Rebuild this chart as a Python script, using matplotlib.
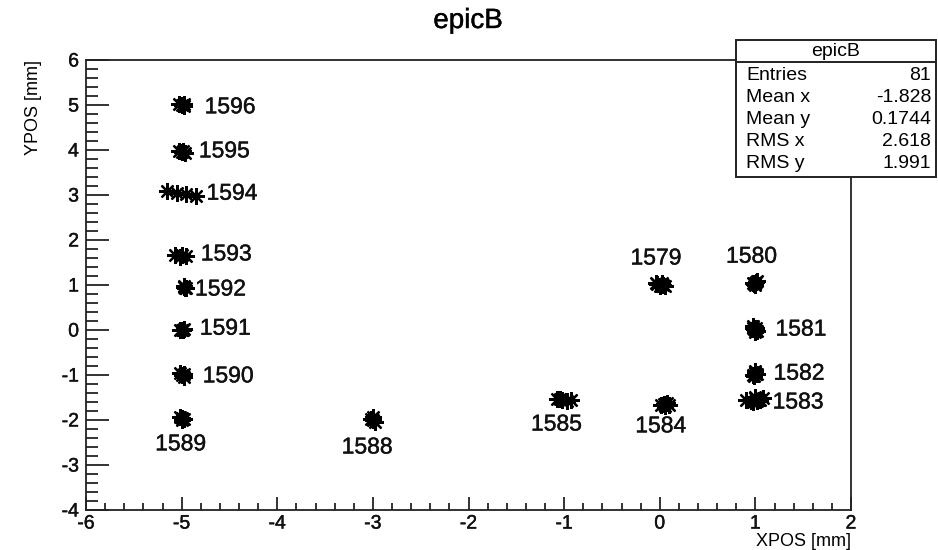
import matplotlib
matplotlib.use('Agg')
from matplotlib import pyplot as plt
from matplotlib import patheffects
from matplotlib.patches import Rectangle
from matplotlib.lines import Line2D
from matplotlib.ticker import MultipleLocator

plt.rcParams['font.family'] = ['Liberation Sans', 'DejaVu Sans']
plt.rcParams['axes.unicode_minus'] = False

# hit clusters, one per run number (x, y in mm)
runs = ['1596', '1595', '1594', '1593', '1592', '1591', '1590', '1589',
        '1588', '1585', '1584', '1579', '1580', '1581', '1582', '1583']
hits_x = [
    [-5.00, -4.97, -5.03, -4.98],
    [-5.00, -4.96, -5.03, -4.99],
    [-5.15, -5.05, -4.95, -4.85],
    [-5.07, -5.00, -4.95, -5.02],
    [-4.97, -4.95, -4.98, -4.96],
    [-5.00, -4.98, -5.02, -4.99],
    [-5.00, -4.97, -5.02, -4.98],
    [-5.00, -4.98, -5.02, -5.00],
    [-3.00, -3.00, -2.98, -3.02],
    [-1.07, -1.02, -0.97, -0.93, -1.04],
    [0.04, 0.08, 0.01, 0.10, 0.05],
    [-0.03, 0.00, 0.03, 0.05, -0.04, 0.02],
    [1.00, 1.00, 1.02, 0.98, 1.00, 1.01, 0.99],
    [0.97, 1.00, 1.02, 0.98, 1.00, 0.99, 1.01],
    [1.00, 0.98, 1.02, 1.00, 0.99, 1.01, 1.00],
    [0.90, 0.95, 1.00, 1.05, 1.08, 0.97, 1.02, 1.00],
]
hits_y = [
    [5.00, 4.97, 5.02, 5.03],
    [3.95, 3.93, 3.97, 3.98],
    [3.08, 3.05, 3.02, 2.98],
    [1.66, 1.66, 1.64, 1.62],
    [0.95, 0.93, 0.97, 0.94],
    [0.00, 0.02, -0.01, 0.00],
    [-1.00, -1.05, -0.95, -0.98],
    [-1.95, -1.98, -1.93, -2.00],
    [-2.00, -1.93, -2.05, -1.98],
    [-1.53, -1.55, -1.57, -1.56, -1.54],
    [-1.65, -1.63, -1.67, -1.66, -1.68],
    [1.02, 0.98, 1.00, 0.97, 1.05, 1.04],
    [1.05, 1.02, 1.08, 1.05, 1.00, 1.06, 1.03],
    [0.05, 0.00, -0.02, 0.08, -0.05, 0.02, 0.04],
    [-0.95, -1.00, -0.97, -0.92, -1.02, -0.98, -0.96],
    [-1.55, -1.58, -1.52, -1.55, -1.52, -1.60, -1.57, -1.50],
]

# where each run number is written (data coords) and how it is anchored
label_x = [-4.76, -4.82, -4.74, -4.80, -4.86, -4.81, -4.78, -5.01,
           -3.06, -1.08, 0.01, -0.04, 0.96, 1.21, 1.19, 1.18]
label_y = [4.96, 3.98, 3.04, 1.69, 0.91, 0.04, -1.02, -2.53,
           -2.60, -2.09, -2.13, 1.60, 1.64, 0.02, -0.96, -1.60]
label_ha = ['left'] * 7 + ['center'] * 6 + ['left'] * 3

stat_names = ['Entries', 'Mean x', 'Mean y', 'RMS x', 'RMS y']
stat_values = ['81', '-1.828', '0.1744', '2.618', '1.991']

# a touch heavier text, like the blurry screenshot
heavy = [patheffects.withStroke(linewidth=0.3, foreground='#111111')]

fig = plt.figure(figsize=(9.38, 5.5), dpi=100)
ax = fig.add_axes([86/938, 1-510/550, (851-86)/938, 450/550])

for xs, ys in zip(hits_x, hits_y):
    ax.plot(xs, ys, linestyle='none', marker=(8, 2, 0), markersize=12,
            markeredgewidth=1.6, color='black')

for name, lx, ly, ha in zip(runs, label_x, label_y, label_ha):
    ax.text(lx, ly, name, ha=ha, va='center', fontsize=16.5, color='#111111',
            path_effects=heavy)

ax.set_xlim(-6, 2)
ax.set_ylim(-4, 6)
ax.xaxis.set_major_locator(MultipleLocator(1))
ax.xaxis.set_minor_locator(MultipleLocator(0.2))
ax.yaxis.set_major_locator(MultipleLocator(1))
ax.yaxis.set_minor_locator(MultipleLocator(0.2))
ax.tick_params(axis='both', which='both', direction='in', width=1.2,
               top=False, right=False, labelsize=14, colors='#111111')
ax.tick_params(axis='x', which='major', length=9.7, pad=4)
ax.tick_params(axis='x', which='minor', length=4.9)
ax.tick_params(axis='y', which='major', length=16.5, pad=5)
ax.tick_params(axis='y', which='minor', length=8.3)
for sp in ax.spines.values():
    sp.set_linewidth(1.3)
    sp.set_color('#222222')
for lab in ax.get_xticklabels() + ax.get_yticklabels():
    lab.set_path_effects(heavy)

ax.set_xlabel('XPOS [mm]', fontsize=13, loc='right')
ax.xaxis.set_label_coords(1.0, -0.05)
ax.set_ylabel('YPOS [mm]', fontsize=13, loc='top', labelpad=14)

fig.text(468/938, 1-21/550, 'epicB', ha='center', va='center', fontsize=20,
         path_effects=heavy)

# stats box
bx0, bx1, by0, by1 = 736/938, 936/938, 1-177/550, 1-40/550
fig.patches.append(Rectangle((bx0, by0), bx1-bx0, by1-by0, transform=fig.transFigure,
                             facecolor='white', edgecolor='#222222', linewidth=1.4, zorder=5))
fig.lines.append(Line2D([bx0, bx1], [1-62/550, 1-62/550], transform=fig.transFigure,
                        color='#222222', linewidth=1.4, zorder=6))
fig.text((bx0+bx1)/2, 1-51/550, 'epicB', ha='center', va='center', fontsize=14, zorder=7)
for i, (n, v) in enumerate(zip(stat_names, stat_values)):
    yy = 1-(75+22*i)/550
    fig.text(746/938, yy, n, ha='left', va='center', fontsize=14, zorder=7)
    fig.text(931/938, yy, v, ha='right', va='center', fontsize=14, zorder=7)

fig.savefig('out.png', dpi=100)
